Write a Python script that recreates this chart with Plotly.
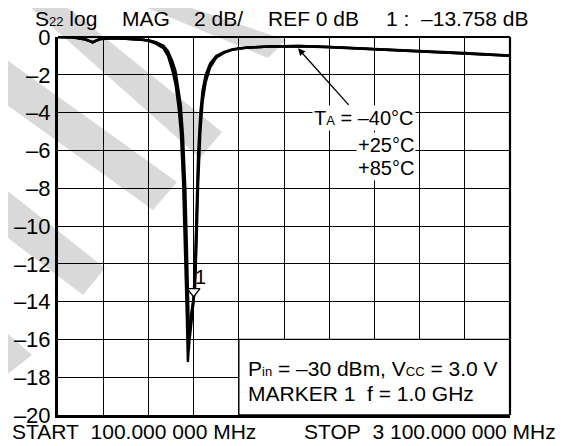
import plotly.graph_objects as go

# ---------------- data ----------------
freq_mhz = [100, 200, 280, 330, 380, 450, 550, 650, 700, 750,
            800, 830, 860, 880, 900, 915, 930, 945, 955, 962,
            968, 975, 985, 1000, 1010, 1020, 1030, 1045, 1060, 1080,
            1110, 1150, 1200, 1260, 1350, 1500, 1700, 1900, 2200, 2500,
            2800, 3100]
s22_m40 = [0, -0.02, -0.1, -0.3, -0.08, -0.05, -0.08, -0.12, -0.2, -0.35,
           -0.6, -1.0, -1.8, -2.5, -3.7, -5.0, -7.6, -11.2, -14.8, -17.2,
           -16.2, -15.4, -14.6, -13.76, -12.0, -8.8, -6.2, -4.0, -2.8, -2.0,
           -1.4, -1.0, -0.8, -0.65, -0.56, -0.5, -0.48, -0.52, -0.62, -0.73,
           -0.85, -0.97]
s22_p25 = [0, -0.02, -0.12, -0.28, -0.1, -0.06, -0.09, -0.13, -0.18, -0.3,
           -0.52, -0.85, -1.5, -2.1, -3.1, -4.2, -6.3, -9.4, -12.8, -15.8,
           -16.6, -15.6, -14.8, -13.9, -12.6, -9.8, -7.0, -4.5, -3.1, -2.2,
           -1.5, -1.05, -0.82, -0.66, -0.56, -0.5, -0.48, -0.53, -0.63, -0.74,
           -0.87, -0.99]
s22_p85 = [0, -0.03, -0.14, -0.26, -0.12, -0.07, -0.1, -0.14, -0.17, -0.27,
           -0.46, -0.75, -1.3, -1.8, -2.7, -3.6, -5.3, -8.0, -11.0, -13.8,
           -15.4, -15.9, -15.2, -14.2, -13.2, -10.8, -7.8, -5.0, -3.4, -2.4,
           -1.6, -1.1, -0.84, -0.67, -0.57, -0.51, -0.49, -0.54, -0.64, -0.75,
           -0.88, -1.0]
temp_labels = ["–40°C", "+25°C", "+85°C"]
x_ticks = [100, 400, 700, 1000, 1300, 1600, 1900, 2200, 2500, 2800, 3100]
y_ticks = [0, -2, -4, -6, -8, -10, -12, -14, -16, -18, -20]
y_ticktext = ["0", "–2", "–4", "–6", "–8", "–10", "–12", "–14", "–16", "–18", "–20"]
marker_freq = 1000
marker_db = -13.758
arrow_freq = 1693
arrow_db = -0.6

# ---------------- layout helpers ----------------
# the page body has an 8 px margin, so the figure is 8 px smaller and all
# positions below are given in window pixels
OFF = 8
WIN_W, WIN_H = 569, 446
W, H = WIN_W - OFF, WIN_H - OFF
PL, PR, PT, PB = 58, 510, 37, 415          # plot area in window pixels
L, R, T, B = PL - OFF, WIN_W - PR, PT - OFF, WIN_H - PB
PW, PH = PR - PL, PB - PT
FONT = "Liberation Sans, Arial, Helvetica, sans-serif"
GRAY = "#d9d9d9"


def px(x):
    return (x - PL) / PW


def py(y):
    return (PB - y) / PH


def poly(points):
    return "M " + " L ".join(f"{px(a):.4f},{py(b):.4f}" for a, b in points) + " Z"


fig = go.Figure()

for s in (s22_m40, s22_p25, s22_p85):
    fig.add_trace(go.Scatter(x=freq_mhz, y=s, mode="lines",
                             line=dict(color="black", width=2.4),
                             hoverinfo="skip", showlegend=False))

# marker 1
fig.add_trace(go.Scatter(x=[marker_freq], y=[marker_db + 0.3], mode="markers",
                         marker=dict(symbol="triangle-down", size=11, color="white",
                                     line=dict(color="black", width=1.4)),
                         hoverinfo="skip", showlegend=False))

shapes = []
# watermark (light gray diagonal bands)
for pts in [
    [(22, 0), (58, 0), (222, 132), (200, 158)],
    [(0, 55), (0, 100), (153, 210), (177, 182)],
    [(0, 185), (0, 232), (83, 295), (105, 268)],
    [(0, 327), (32, 355), (0, 380)],
    [(128, 0), (168, 0), (286, 40), (268, 58)],
]:
    shapes.append(dict(type="path", xref="paper", yref="paper", path=poly(pts),
                       fillcolor=GRAY, line=dict(width=0), layer="below"))

# info box (bottom right)
shapes.append(dict(type="rect", xref="x", yref="y", x0=x_ticks[4], x1=x_ticks[-1],
                   y0=y_ticks[-1], y1=y_ticks[-3], fillcolor="white",
                   line=dict(color="black", width=1.4), layer="above"))
# top/right frame
shapes.append(dict(type="line", xref="paper", yref="paper", x0=0, x1=1, y0=1, y1=1,
                   line=dict(color="black", width=2.2)))
shapes.append(dict(type="line", xref="paper", yref="paper", x0=1, x1=1, y0=0, y1=1,
                   line=dict(color="black", width=2.2)))

SUB = "<span style='font-size:13px'>{}</span>"
ann = []


def text(x, y, s, anchor="left", bg=None, size=21):
    d = dict(xref="paper", yref="paper", x=px(x), y=py(y), text=s, showarrow=False,
             xanchor=anchor, yanchor="middle", font=dict(family=FONT, size=size, color="black"))
    if bg:
        d.update(bgcolor=bg, borderpad=1)
    ann.append(d)


# header
text(33, 19, "S" + SUB.format("22") + " log")
text(120, 19, "MAG")
text(192, 19, "2 dB/")
text(266, 19, "REF 0 dB")
text(384, 19, "1 :\u00a0\u00a0" + f"{marker_db:.3f}".replace("-", "–") + " dB")
# footer
text(10, 431, "START\u00a0\u00a0100.000 000 MHz")
text(558, 431, "STOP\u00a0\u00a03 100.000 000 MHz", anchor="right")
# temperatures
text(416, 118, "T" + SUB.format("A") + " = " + temp_labels[0], anchor="right", bg="white", size=20)
text(416, 145, temp_labels[1], anchor="right", bg="white", size=20)
text(416, 168, temp_labels[2], anchor="right", bg="white", size=20)
# conditions
text(246, 368, "P" + SUB.format("in") + " = –30 dBm, V" + SUB.format("CC") + " = 3.0 V")
text(246, 393, "MARKER 1\u00a0\u00a0f = 1.0 GHz")

# arrow to the curve
ann.append(dict(x=arrow_freq, y=arrow_db, xref="x", yref="y", text="", showarrow=True,
                ax=52, ay=58, arrowhead=2, arrowsize=1.1, arrowwidth=1.3, arrowcolor="black"))
# marker label
ann.append(dict(x=marker_freq, y=marker_db, xref="x", yref="y", text="1", showarrow=False,
                xshift=7, yshift=20, font=dict(family=FONT, size=20, color="black")))

fig.update_layout(
    width=W, height=H,
    margin=dict(l=L, r=R, t=T, b=B, pad=0, autoexpand=False),
    paper_bgcolor="white", plot_bgcolor="rgba(0,0,0,0)",
    shapes=shapes, annotations=ann, showlegend=False,
    font=dict(family=FONT, size=20, color="black"),
)
fig.update_xaxes(range=[x_ticks[0], x_ticks[-1]], tickvals=x_ticks, showticklabels=False,
                 showgrid=True, gridcolor="black", gridwidth=1.3, zeroline=False,
                 showline=True, linecolor="black", linewidth=3, ticks="", automargin=False)
fig.update_yaxes(range=[y_ticks[-1], y_ticks[0]], tickvals=y_ticks, ticktext=y_ticktext,
                 showgrid=True, gridcolor="black", gridwidth=1.3, zeroline=False,
                 showline=True, linecolor="black", linewidth=3, ticks="", automargin=False,
                 ticklabelstandoff=0, tickfont=dict(family=FONT, size=22, color="black"))

fig.write_html("out.html")
